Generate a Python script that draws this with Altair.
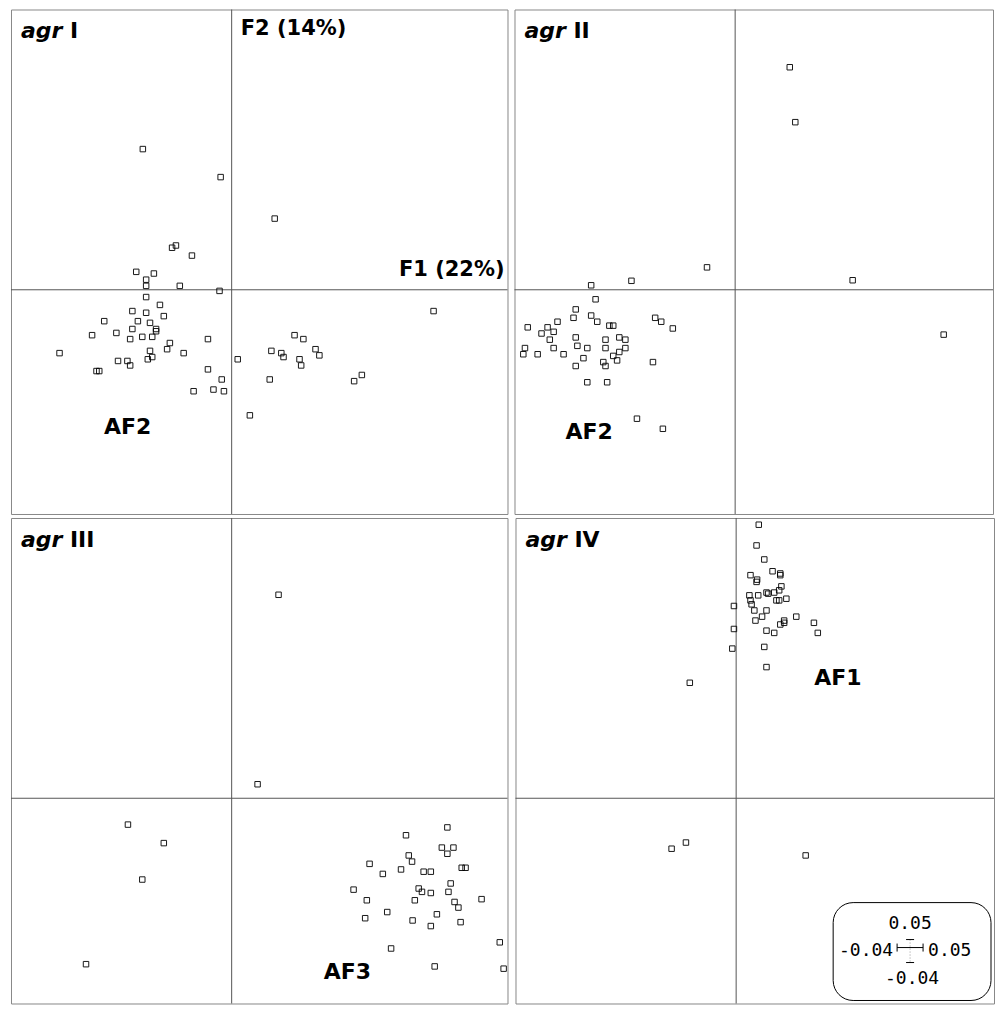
import altair as alt
import pandas as pd

# ---------------- data (factor scores) ----------------
agr1_x = [-0.0161, -0.0020, 0.0078, -0.0108, -0.0101, -0.0072, -0.0173, -0.0141, -0.0155, -0.0155,
          -0.0094, -0.0022, -0.0155, -0.0130, -0.0180, -0.0155, -0.0123, -0.0231, -0.0170, -0.0148,
          -0.0137, -0.0137, -0.0253, -0.0209, -0.0180, -0.0184, -0.0162, -0.0144, -0.0043, -0.0112,
          -0.0117, -0.0148, -0.0087, -0.0312, -0.0206, -0.0189, -0.0184, -0.0152, -0.0144, -0.0245,
          -0.0240, -0.0043, -0.0018, -0.0069, -0.0033, -0.0014, 0.0011, 0.0072, 0.0090, 0.0094,
          0.0114, 0.0130, 0.0152, 0.0159, 0.0123, 0.0126, 0.0069, 0.0222, 0.0236, 0.0366, 0.0033]
agr1_y = [0.0251, 0.0201, 0.0127, 0.0075, 0.0079, 0.0061, 0.0032, 0.0029, 0.0018, 0.0007,
          0.0007, -0.0002, -0.0013, -0.0027, -0.0038, -0.0041, -0.0047, -0.0056, -0.0056, -0.0059,
          -0.0070, -0.0074, -0.0081, -0.0077, -0.0070, -0.0088, -0.0084, -0.0084, -0.0088, -0.0095,
          -0.0106, -0.0109, -0.0113, -0.0113, -0.0127, -0.0127, -0.0135, -0.0124, -0.0120, -0.0145,
          -0.0145, -0.0142, -0.0160, -0.0181, -0.0178, -0.0181, -0.0124, -0.0109, -0.0113, -0.0120,
          -0.0081, -0.0088, -0.0106, -0.0117, -0.0124, -0.0135, -0.0160, -0.0163, -0.0152, -0.0038, -0.0224]

agr2_x = [0.0099, 0.0109, -0.0051, -0.0188, -0.0261, 0.0213, 0.0378, -0.0253, -0.0289, -0.0293,
          -0.0261, -0.0250, -0.0322, -0.0376, -0.0340, -0.0351, -0.0329, -0.0336, -0.0228, -0.0221,
          -0.0145, -0.0134, -0.0113, -0.0289, -0.0235, -0.0210, -0.0199, -0.0235, -0.0199, -0.0286,
          -0.0268, -0.0329, -0.0381, -0.0384, -0.0358, -0.0311, -0.0210, -0.0221, -0.0275, -0.0214,
          -0.0239, -0.0235, -0.0289, -0.0149, -0.0268, -0.0232, -0.0178, -0.0131]
agr2_y = [0.0397, 0.0299, 0.0040, 0.0016, 0.0008, 0.0017, -0.0080, -0.0017, -0.0035, -0.0050,
          -0.0046, -0.0057, -0.0057, -0.0067, -0.0067, -0.0078, -0.0075, -0.0089, -0.0064, -0.0064,
          -0.0050, -0.0057, -0.0069, -0.0085, -0.0089, -0.0085, -0.0089, -0.0104, -0.0104, -0.0100,
          -0.0104, -0.0104, -0.0104, -0.0115, -0.0115, -0.0115, -0.0111, -0.0118, -0.0122, -0.0126,
          -0.0129, -0.0136, -0.0136, -0.0129, -0.0165, -0.0165, -0.0230, -0.0248]

agr3_x = [0.0085, 0.0047, -0.0188, -0.0123, -0.0162, -0.0264, 0.0391, 0.0316, 0.0381, 0.0402,
          0.0391, 0.0321, 0.0327, 0.0250, 0.0274, 0.0307, 0.0348, 0.0361, 0.0417, 0.0424,
          0.0221, 0.0339, 0.0345, 0.0361, 0.0397, 0.0393, 0.0332, 0.0245, 0.0453, 0.0404,
          0.0411, 0.0282, 0.0372, 0.0242, 0.0328, 0.0361, 0.0415, 0.0289, 0.0486, 0.0368, 0.0493]
agr3_y = [0.0363, 0.0025, -0.0047, -0.0080, -0.0145, -0.0296, -0.0052, -0.0066, -0.0088, -0.0088,
          -0.0099, -0.0102, -0.0113, -0.0117, -0.0135, -0.0127, -0.0131, -0.0131, -0.0124, -0.0124,
          -0.0163, -0.0161, -0.0167, -0.0169, -0.0152, -0.0167, -0.0182, -0.0182, -0.0180, -0.0185,
          -0.0195, -0.0203, -0.0207, -0.0214, -0.0218, -0.0228, -0.0221, -0.0268, -0.0257, -0.0300, -0.0304]

agr4_x = [0.0041, 0.0037, 0.0051, 0.0026, 0.0038, 0.0037, 0.0066, 0.0080, 0.0080, 0.0024,
          0.0040, 0.0055, 0.0058, 0.0069, 0.0078, 0.0082, 0.0073, 0.0078, 0.0091, 0.0026,
          0.0028, -0.0004, 0.0033, 0.0055, 0.0047, 0.0035, 0.0109, 0.0087, 0.0087, 0.0080,
          0.0141, 0.0148, 0.0055, 0.0069, -0.0004, -0.0007, 0.0051, 0.0055, -0.0084, -0.0117,
          -0.0091, 0.0126]
agr4_y = [0.0488, 0.0451, 0.0426, 0.0398, 0.0390, 0.0386, 0.0405, 0.0401, 0.0398, 0.0362,
          0.0362, 0.0367, 0.0365, 0.0367, 0.0371, 0.0378, 0.0353, 0.0353, 0.0356, 0.0353,
          0.0346, 0.0343, 0.0335, 0.0335, 0.0324, 0.0317, 0.0324, 0.0317, 0.0313, 0.0310,
          0.0313, 0.0295, 0.0299, 0.0295, 0.0302, 0.0267, 0.0270, 0.0234, 0.0206, -0.0090,
          -0.0079, -0.0102]

panel_names = ["I", "II", "III", "IV"]
group_labels = ["AF2", "AF2", "AF3", "AF1"]
scale_ticks = ["0.05", "-0.04", "0.05", "-0.04"]   # top, left, right, bottom

# ---------------- layout ----------------
X_MIN, X_MAX = -0.04, 0.05
Y_MIN, Y_MAX = -0.04, 0.05
W_FULL, H_FULL = 497, 505
W2, H2 = 479, 486          # right column / bottom row are cut by the page edge

FONT = "DejaVu Sans"
AXIS_COLOR = "#555555"
one = pd.DataFrame({"k": [0]})
origin = pd.DataFrame({"z": [0.0]})


def text(txt, x, y, size=22, style="normal", weight="bold", align="left", font=FONT):
    return alt.Chart(one).mark_text(
        text=txt, font=font, fontSize=size, fontStyle=style, fontWeight=weight,
        align=align, baseline="alphabetic", color="black"
    ).encode(x=alt.value(x), y=alt.value(y))


def panel(xs, ys, name, group, gx, gy, w, h, extra=None):
    xdom = [X_MIN, X_MIN + (X_MAX - X_MIN) * w / W_FULL]
    ydom = [Y_MAX - (Y_MAX - Y_MIN) * h / H_FULL, Y_MAX]
    xsc = alt.Scale(domain=xdom, nice=False, zero=False)
    ysc = alt.Scale(domain=ydom, nice=False, zero=False)
    df = pd.DataFrame({"F1": xs, "F2": ys})

    vrule = alt.Chart(origin).mark_rule(color=AXIS_COLOR, strokeWidth=1).encode(
        x=alt.X("z:Q", scale=xsc, axis=None))
    hrule = alt.Chart(origin).mark_rule(color=AXIS_COLOR, strokeWidth=1).encode(
        y=alt.Y("z:Q", scale=ysc, axis=None))
    pts = alt.Chart(df).mark_point(
        shape="square", filled=False, size=30, strokeWidth=1, color="black", opacity=0.9
    ).encode(
        x=alt.X("F1:Q", scale=xsc, axis=None),
        y=alt.Y("F2:Q", scale=ysc, axis=None),
    )
    layers = [vrule, hrule, pts,
              text("agr", 10, 29, style="italic"),
              text(name, 59, 29),
              text(group, gx, gy)]
    if extra:
        layers += extra
    return alt.layer(*layers).properties(width=w, height=h)


# titles of the factor axes (panel I)
axis_titles = [text("F2 (14%)", 230, 26, size=21),
               text("F1 (22%)", 494, 267, size=21, align="right")]

# scale box (panel IV)
MONO = "DejaVu Sans Mono"
BX = -10  # horizontal shift of the box inside the cut panel
scale_box = [
    alt.Chart(one).mark_rect(cornerRadius=20, fill="white", stroke="black", strokeWidth=1).encode(
        x=alt.value(328 + BX), x2=alt.value(476), y=alt.value(385), y2=alt.value(483)),
    text(scale_ticks[0], 405 + BX, 411, size=18, weight="normal", align="center", font=MONO),
    text(scale_ticks[1], 388 + BX, 438, size=18, weight="normal", align="right", font=MONO),
    text(scale_ticks[2], 423 + BX, 438, size=18, weight="normal", align="left", font=MONO),
    text(scale_ticks[3], 407 + BX, 466, size=18, weight="normal", align="center", font=MONO),
    alt.Chart(one).mark_rule(color="black", strokeWidth=1).encode(
        x=alt.value(392 + BX), x2=alt.value(418 + BX), y=alt.value(430)),
    alt.Chart(one).mark_rule(color="black", strokeWidth=1).encode(
        x=alt.value(392 + BX), y=alt.value(426), y2=alt.value(434)),
    alt.Chart(one).mark_rule(color="black", strokeWidth=1).encode(
        x=alt.value(418 + BX), y=alt.value(426), y2=alt.value(434)),
    alt.Chart(one).mark_rule(color="#999999", strokeWidth=1, strokeDash=[1, 2]).encode(
        x=alt.value(405 + BX), y=alt.value(422), y2=alt.value(445)),
    alt.Chart(one).mark_rule(color="black", strokeWidth=1).encode(
        x=alt.value(401 + BX), x2=alt.value(409 + BX), y=alt.value(422)),
    alt.Chart(one).mark_rule(color="black", strokeWidth=1).encode(
        x=alt.value(401 + BX), x2=alt.value(409 + BX), y=alt.value(445)),
]

p1 = panel(agr1_x, agr1_y, panel_names[0], group_labels[0], 93, 425, W_FULL, H_FULL, axis_titles)
p2 = panel(agr2_x, agr2_y, panel_names[1], group_labels[1], 51, 430, W2, H_FULL)
p3 = panel(agr3_x, agr3_y, panel_names[2], group_labels[2], 313, 461, W_FULL, H2)
p4 = panel(agr4_x, agr4_y, panel_names[3], group_labels[3], 299, 167, W2, H2, scale_box)

chart = alt.vconcat(
    alt.hconcat(p1, p2, spacing=5),
    alt.hconcat(p3, p4, spacing=5),
    spacing=2,
).properties(
    padding={"left": 2, "top": 0, "right": 0, "bottom": 0},
    background="white",
).configure_view(
    stroke="#888888", strokeWidth=1
)

chart.save("out.html", embed_options={"renderer": "svg", "actions": False})
